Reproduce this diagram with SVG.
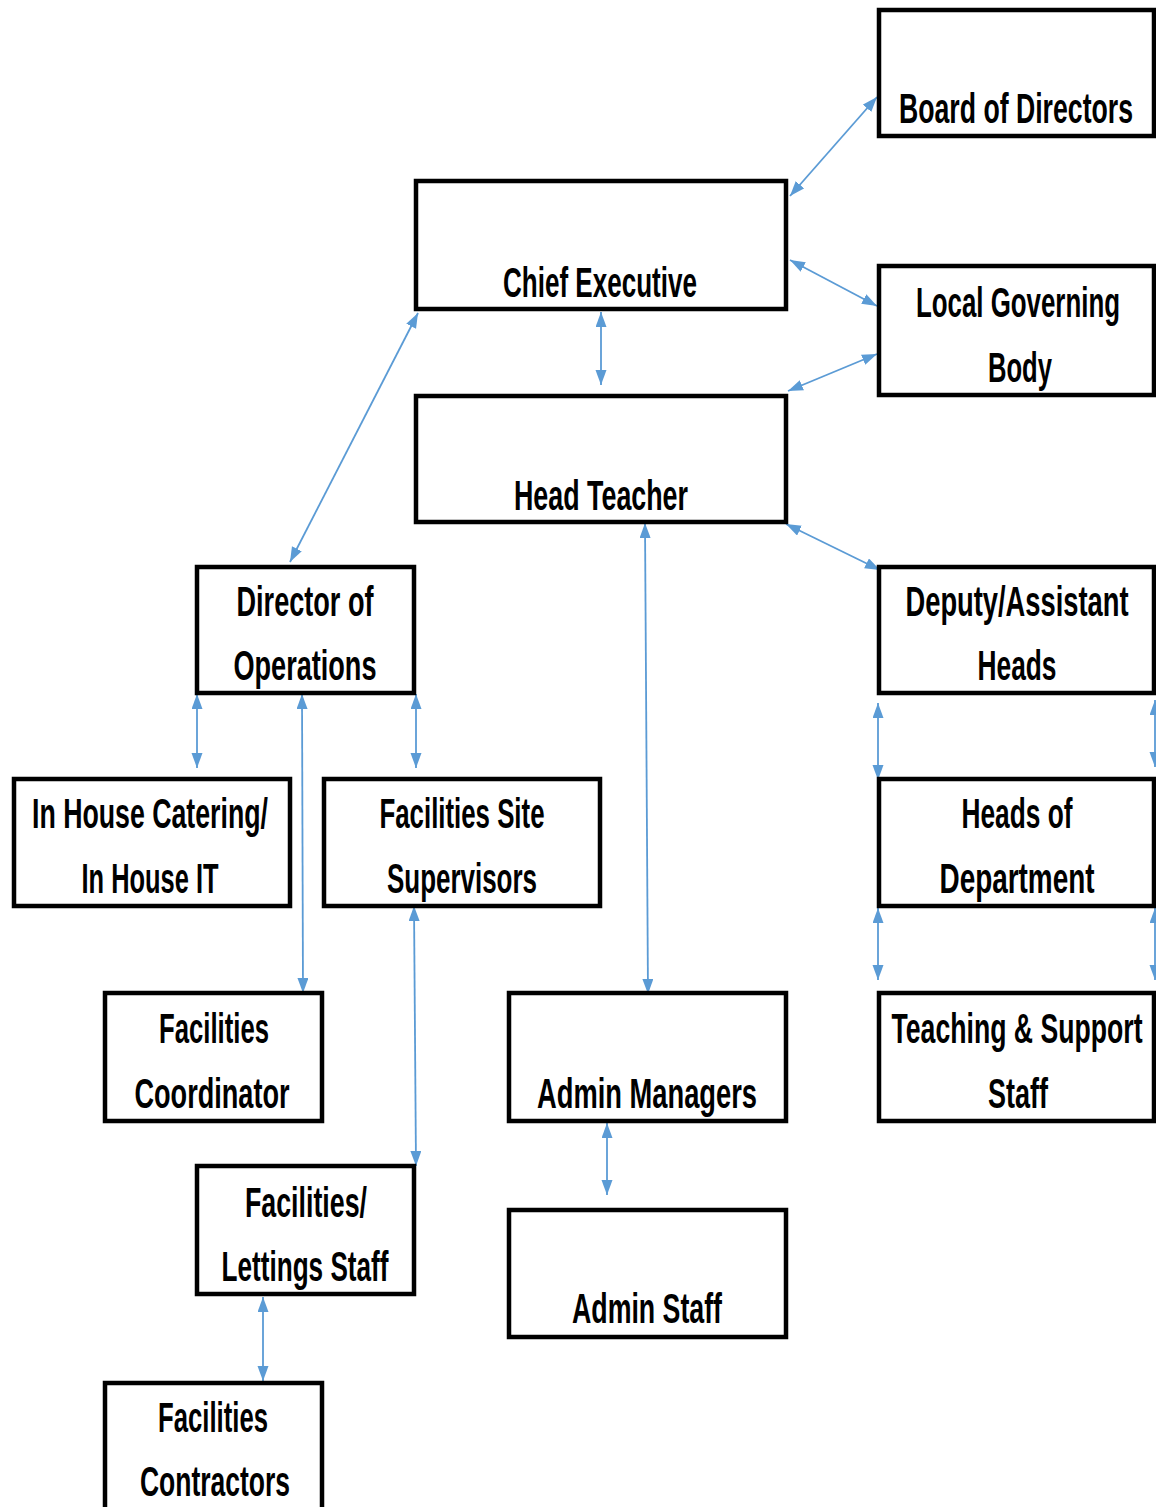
<svg xmlns="http://www.w3.org/2000/svg" width="1156" height="1507" viewBox="0 0 1156 1507">
<style>
.box{fill:#fff;stroke:#000;stroke-width:4.5}
.t{font-family:"Liberation Sans",Arial,sans-serif;font-weight:bold;font-size:26.2px;fill:#000;text-anchor:middle}
.c{stroke:#5B9BD5;stroke-width:1.8;fill:none;marker-start:url(#ah);marker-end:url(#ah)}
</style>
<defs>
<marker id="ah" markerUnits="userSpaceOnUse" markerWidth="16" markerHeight="12" refX="15" refY="5.5" orient="auto-start-reverse">
<path d="M0,0 L15,5.5 L0,11 Z" fill="#5B9BD5"/>
</marker>
</defs>
<rect width="1156" height="1507" fill="#fff"/>
<g id="connectors">
<line class="c" x1="877" y1="97" x2="790" y2="196"/>
<line class="c" x1="790" y1="260" x2="877" y2="306"/>
<line class="c" x1="877" y1="354" x2="788" y2="391"/>
<line class="c" x1="601" y1="312" x2="601" y2="385"/>
<line class="c" x1="418" y1="313" x2="290" y2="562"/>
<line class="c" x1="786" y1="524" x2="880" y2="570"/>
<line class="c" x1="645" y1="523" x2="648" y2="994"/>
<line class="c" x1="197" y1="694" x2="197" y2="768"/>
<line class="c" x1="302" y1="694" x2="303" y2="993"/>
<line class="c" x1="416" y1="694" x2="416" y2="768"/>
<line class="c" x1="414" y1="906" x2="416" y2="1166"/>
<line class="c" x1="878" y1="703" x2="878" y2="780"/>
<line class="c" x1="1155" y1="700" x2="1155" y2="767"/>
<line class="c" x1="878" y1="908" x2="878" y2="980"/>
<line class="c" x1="1155" y1="908" x2="1155" y2="980"/>
<line class="c" x1="607" y1="1123" x2="607" y2="1195"/>
<line class="c" x1="263" y1="1297" x2="263" y2="1381"/>
</g>
<g id="board">
<rect class="box" x="879" y="10" width="275" height="126"/>
<text class="t" transform="scale(1,1.6)" x="1016" y="76.875" textLength="234" lengthAdjust="spacingAndGlyphs">Board of Directors</text>
</g>
<g id="chief">
<rect class="box" x="416" y="181" width="370" height="128"/>
<text class="t" transform="scale(1,1.6)" x="600" y="185.625" textLength="194" lengthAdjust="spacingAndGlyphs">Chief Executive</text>
</g>
<g id="lgb">
<rect class="box" x="879" y="266" width="275" height="129"/>
<text class="t" transform="scale(1,1.6)" x="1018" y="198.125" textLength="204" lengthAdjust="spacingAndGlyphs">Local Governing</text>
<text class="t" transform="scale(1,1.6)" x="1020" y="238.75" textLength="64" lengthAdjust="spacingAndGlyphs">Body</text>
</g>
<g id="head">
<rect class="box" x="416" y="396" width="370" height="126"/>
<text class="t" transform="scale(1,1.6)" x="601" y="318.75" textLength="174" lengthAdjust="spacingAndGlyphs">Head Teacher</text>
</g>
<g id="dirops">
<rect class="box" x="197" y="567" width="217" height="126"/>
<text class="t" transform="scale(1,1.6)" x="305" y="385" textLength="137" lengthAdjust="spacingAndGlyphs">Director of</text>
<text class="t" transform="scale(1,1.6)" x="305" y="425" textLength="143" lengthAdjust="spacingAndGlyphs">Operations</text>
</g>
<g id="deputy">
<rect class="box" x="879" y="567" width="275" height="126"/>
<text class="t" transform="scale(1,1.6)" x="1017" y="385" textLength="223" lengthAdjust="spacingAndGlyphs">Deputy/Assistant</text>
<text class="t" transform="scale(1,1.6)" x="1017" y="425" textLength="79" lengthAdjust="spacingAndGlyphs">Heads</text>
</g>
<g id="inhouse">
<rect class="box" x="14" y="779" width="276" height="127"/>
<text class="t" transform="scale(1,1.6)" x="150" y="517.5" textLength="236" lengthAdjust="spacingAndGlyphs">In House Catering/</text>
<text class="t" transform="scale(1,1.6)" x="150" y="558.125" textLength="137" lengthAdjust="spacingAndGlyphs">In House IT</text>
</g>
<g id="facsite">
<rect class="box" x="324" y="779" width="276" height="127"/>
<text class="t" transform="scale(1,1.6)" x="462" y="517.5" textLength="165" lengthAdjust="spacingAndGlyphs">Facilities Site</text>
<text class="t" transform="scale(1,1.6)" x="462" y="558.125" textLength="150" lengthAdjust="spacingAndGlyphs">Supervisors</text>
</g>
<g id="hod">
<rect class="box" x="879" y="779" width="275" height="127"/>
<text class="t" transform="scale(1,1.6)" x="1017" y="517.5" textLength="111" lengthAdjust="spacingAndGlyphs">Heads of</text>
<text class="t" transform="scale(1,1.6)" x="1017" y="558.125" textLength="155" lengthAdjust="spacingAndGlyphs">Department</text>
</g>
<g id="faccoord">
<rect class="box" x="105" y="993" width="217" height="128"/>
<text class="t" transform="scale(1,1.6)" x="214" y="651.875" textLength="110" lengthAdjust="spacingAndGlyphs">Facilities</text>
<text class="t" transform="scale(1,1.6)" x="212" y="692.5" textLength="155" lengthAdjust="spacingAndGlyphs">Coordinator</text>
</g>
<g id="adminmgr">
<rect class="box" x="509" y="993" width="277" height="128"/>
<text class="t" transform="scale(1,1.6)" x="647" y="692.5" textLength="220" lengthAdjust="spacingAndGlyphs">Admin Managers</text>
</g>
<g id="teaching">
<rect class="box" x="879" y="993" width="275" height="128"/>
<text class="t" transform="scale(1,1.6)" x="1017" y="651.875" textLength="251" lengthAdjust="spacingAndGlyphs">Teaching &amp; Support</text>
<text class="t" transform="scale(1,1.6)" x="1018" y="692.5" textLength="60" lengthAdjust="spacingAndGlyphs">Staff</text>
</g>
<g id="lettings">
<rect class="box" x="197" y="1166" width="217" height="128"/>
<text class="t" transform="scale(1,1.6)" x="306" y="760.625" textLength="122" lengthAdjust="spacingAndGlyphs">Facilities/</text>
<text class="t" transform="scale(1,1.6)" x="305" y="800.625" textLength="167" lengthAdjust="spacingAndGlyphs">Lettings Staff</text>
</g>
<g id="adminstaff">
<rect class="box" x="509" y="1210" width="277" height="127"/>
<text class="t" transform="scale(1,1.6)" x="647" y="826.875" textLength="150" lengthAdjust="spacingAndGlyphs">Admin Staff</text>
</g>
<g id="contractors">
<rect class="box" x="105" y="1383" width="217" height="140"/>
<text class="t" transform="scale(1,1.6)" x="213" y="895" textLength="110" lengthAdjust="spacingAndGlyphs">Facilities</text>
<text class="t" transform="scale(1,1.6)" x="215" y="935" textLength="150" lengthAdjust="spacingAndGlyphs">Contractors</text>
</g>
</svg>
